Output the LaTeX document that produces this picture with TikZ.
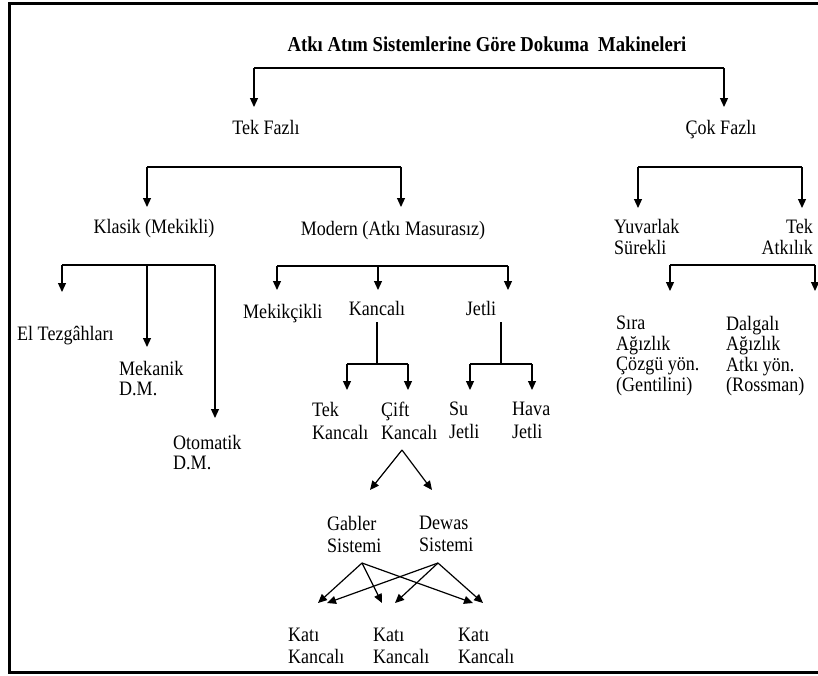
\documentclass[tikz,border=0pt]{standalone}
\usepackage{fontspec}
\setmainfont[FakeStretch=0.88]{Liberation Serif}
\usetikzlibrary{arrows.meta}
\begin{document}
\begin{tikzpicture}[x=1pt,y=-1pt,
  txt/.style={inner sep=0pt,font=\fontsize{20.5}{21}\selectfont},
  ml/.style={txt,align=left,anchor=north west},
  ttl/.style={inner sep=0pt,font=\fontsize{21.2}{22}\selectfont\bfseries},
  ln/.style={line width=1.2pt,black},
  arr/.style={ln,-{Triangle[width=8pt,length=9pt]}},
  frame/.style={line width=3pt,black}]
\useasboundingbox (0,0) rectangle (818,675);
\draw[frame] (818,3.5) -- (9.5,3.5) -- (9.5,672) -- (818,672);

% texts
\node[ttl,anchor=base] (title) at (487,51) {Atkı Atım Sistemlerine Göre Dokuma\ \ Makineleri};
\node[txt,anchor=base] (tekf) at (266,134) {Tek Fazlı};
\node[txt,anchor=base] (cokf) at (721,134) {Çok Fazlı};
\node[txt,anchor=base] (klasik) at (154,233) {Klasik (Mekikli)};
\node[txt,anchor=base] (modern) at (393,235) {Modern (Atkı Masurasız)};
\node[txt,anchor=base west] (el) at (17,340) {El Tezgâhları};
\node[ml,font=\fontsize{20.5}{20}\selectfont] (mekanik) at (119,361) {Mekanik\\D.M.};
\node[ml,font=\fontsize{20.5}{20}\selectfont] (otomatik) at (173,435) {Otomatik\\D.M.};
\node[txt,anchor=base west] (mekikcikli) at (243,318) {Mekikçikli};
\node[txt,anchor=base] (kancali) at (377,315) {Kancalı};
\node[txt,anchor=base] (jetli) at (481,315) {Jetli};
\node[ml,font=\fontsize{20.5}{23}\selectfont] (tekk) at (312,402) {Tek\\Kancalı};
\node[ml,font=\fontsize{20.5}{23}\selectfont] (cift) at (381,402) {Çift\\Kancalı};
\node[ml,font=\fontsize{20.5}{23}\selectfont] (su) at (449,402) {Su\\Jetli};
\node[ml,font=\fontsize{20.5}{23}\selectfont] (hava) at (512,402) {Hava\\Jetli};
\node[ml,font=\fontsize{20.5}{22}\selectfont] (gabler) at (327,516) {Gabler\\Sistemi};
\node[ml,font=\fontsize{20.5}{22}\selectfont] (dewas) at (419,516) {Dewas\\Sistemi};
\node[ml,font=\fontsize{20.5}{22}\selectfont] (kati1) at (288,628) {Katı\\Kancalı};
\node[ml,font=\fontsize{20.5}{22}\selectfont] (kati2) at (373,628) {Katı\\Kancalı};
\node[ml,font=\fontsize{20.5}{22}\selectfont] (kati3) at (458,628) {Katı\\Kancalı};
\node[ml] (yuvarlak) at (614,219) {Yuvarlak\\Sürekli};
\node[txt,align=right,anchor=north east] (tekat) at (813,219) {Tek\\Atkılık};
\node[ml,font=\fontsize{20.5}{20.5}\selectfont] (sira) at (616,316) {Sıra\\Ağızlık\\Çözgü yön.\\(Gentilini)};
\node[ml,font=\fontsize{20.5}{20.5}\selectfont] (dalgali) at (726,316) {Dalgalı\\Ağızlık\\Atkı yön.\\(Rossman)};

% connector coordinates
\coordinate (b0l) at (254,68);  \coordinate (b0r) at (724,68);
\coordinate (t0l) at (254,107); \coordinate (t0r) at (724,107);
\coordinate (b1l) at (147,167); \coordinate (b1r) at (401,167);
\coordinate (t1l) at (147,207); \coordinate (t1r) at (401,207);
\coordinate (b2l) at (638,167); \coordinate (b2r) at (802,167);
\coordinate (t2l) at (638,208); \coordinate (t2r) at (802,208);
\coordinate (b3l) at (62,265);  \coordinate (b3m) at (147,265); \coordinate (b3r) at (215,265);
\coordinate (t3l) at (62,292);  \coordinate (t3m) at (147,347); \coordinate (t3r) at (215,418);
\coordinate (b4l) at (277,266); \coordinate (b4m) at (378,266); \coordinate (b4r) at (508,266);
\coordinate (t4l) at (277,290); \coordinate (t4m) at (378,290); \coordinate (t4r) at (508,290);
\coordinate (s5) at (377,322);  \coordinate (j5) at (377,364);
\coordinate (b5l) at (347,364); \coordinate (b5r) at (408,364);
\coordinate (t5l) at (347,390); \coordinate (t5r) at (408,390);
\coordinate (s6) at (501,322);  \coordinate (j6) at (501,364);
\coordinate (b6l) at (470,364); \coordinate (b6r) at (532,364);
\coordinate (t6l) at (470,390); \coordinate (t6r) at (532,390);
\coordinate (b7l) at (670,265); \coordinate (b7r) at (815,265);
\coordinate (t7l) at (670,291); \coordinate (t7r) at (815,291);
\coordinate (cap) at (402,450);
\coordinate (gl) at (370,490);  \coordinate (dr) at (432,490);
\coordinate (gap) at (362,563); \coordinate (dap) at (438,563);
\coordinate (g1) at (318,603);  \coordinate (g2) at (382,603); \coordinate (g3) at (473,603);
\coordinate (d1) at (327,603);  \coordinate (d2) at (395,603); \coordinate (d3) at (483,603);

% connectors
\draw[ln] (b0l) -- (b0r);
\draw[arr] (b0l) -- (t0l);  \draw[arr] (b0r) -- (t0r);
\draw[ln] (b1l) -- (b1r);
\draw[arr] (b1l) -- (t1l);  \draw[arr] (b1r) -- (t1r);
\draw[ln] (b2l) -- (b2r);
\draw[arr] (b2l) -- (t2l);  \draw[arr] (b2r) -- (t2r);
\draw[ln] (b3l) -- (b3r);
\draw[arr] (b3l) -- (t3l);  \draw[arr] (b3m) -- (t3m); \draw[arr] (b3r) -- (t3r);
\draw[ln] (b4l) -- (b4r);
\draw[arr] (b4l) -- (t4l);  \draw[arr] (b4m) -- (t4m); \draw[arr] (b4r) -- (t4r);
\draw[ln] (s5) -- (j5);  \draw[ln] (b5l) -- (b5r);
\draw[arr] (b5l) -- (t5l);  \draw[arr] (b5r) -- (t5r);
\draw[ln] (s6) -- (j6);  \draw[ln] (b6l) -- (b6r);
\draw[arr] (b6l) -- (t6l);  \draw[arr] (b6r) -- (t6r);
\draw[ln] (b7l) -- (b7r);
\draw[arr] (b7l) -- (t7l);  \draw[arr] (b7r) -- (t7r);
\draw[arr] (cap) -- (gl);  \draw[arr] (cap) -- (dr);
\draw[arr] (gap) -- (g1);  \draw[arr] (gap) -- (g2); \draw[arr] (gap) -- (g3);
\draw[arr] (dap) -- (d1);  \draw[arr] (dap) -- (d2); \draw[arr] (dap) -- (d3);
\end{tikzpicture}
\end{document}
